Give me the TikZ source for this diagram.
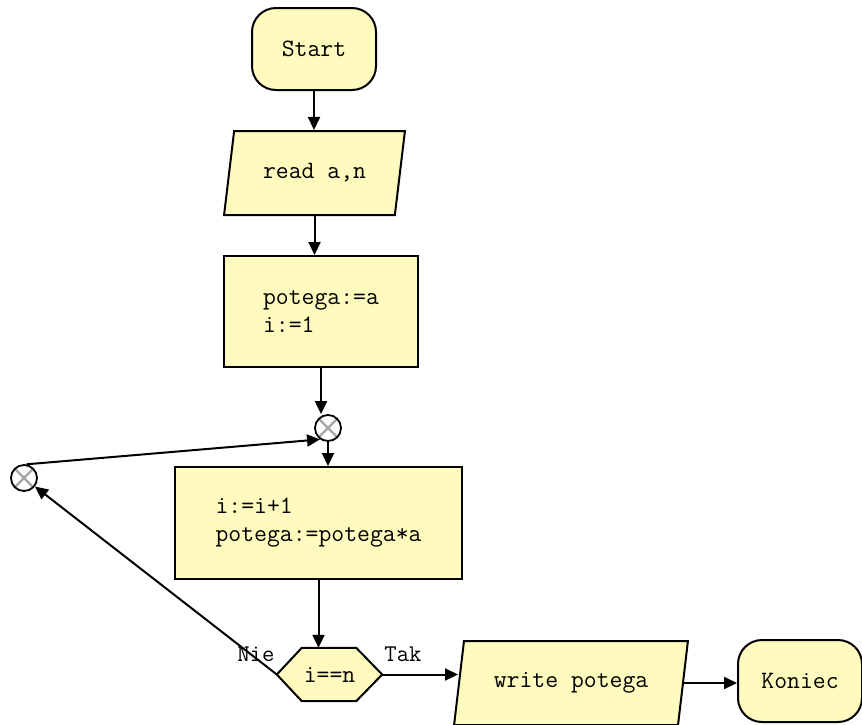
\documentclass[tikz,border=0pt]{standalone}
\usepackage{fontspec}
\usetikzlibrary{shapes.geometric,arrows.meta,calc}
\definecolor{pale}{RGB}{255,250,190}
\tikzset{
  txt/.style={font=\ttfamily\fontsize{25}{28}\selectfont},
  base/.style={draw=black, line width=2pt, fill=pale, inner sep=0pt, txt},
  term/.style={base, rectangle, rounded corners=24pt, minimum width=124pt, minimum height=82pt},
  io/.style={base, trapezium, trapezium left angle=71, trapezium right angle=109, trapezium stretches=true, minimum height=84pt},
  proc/.style={base, rectangle, align=left},
  hexbox/.style={rectangle, inner sep=0pt, minimum width=105pt, minimum height=53pt, txt},
  joint/.style={circle, draw=black, line width=1.8pt, fill=white, minimum size=26pt, inner sep=0pt,
    path picture={\draw[gray!70, line width=2.2pt] (path picture bounding box.north west) -- (path picture bounding box.south east)
      (path picture bounding box.north east) -- (path picture bounding box.south west);}},
  conn/.style={line width=2pt, -{Triangle[length=13pt,width=12pt]}},
  lbl/.style={font=\ttfamily\fontsize{24}{26}\selectfont, inner sep=0pt},
}
\begin{document}
\begin{tikzpicture}[x=1pt, y=-1pt]
\useasboundingbox (0,0) rectangle (862,724);
\node[term] (st) at (314,49) {Start};
\node[io, minimum width=181pt] (rd) at (314.5,173) {read a,n};
\node[proc, minimum width=194pt, minimum height=111pt] (b1) at (321,311.5) {potega:=a\\i:=1};
\node[joint] (c1) at (328,428) {};
\node[joint] (c2) at (24,478) {};
\node[proc, minimum width=287pt, minimum height=112pt] (b2) at (318.5,523) {i:=i+1\\potega:=potega*a};
\node[hexbox] (hx) at (329.5,674.5) {i==n};
\draw[base] (hx.west) -- ($(hx.north west)+(25,0)$) -- ($(hx.north east)+(-26,0)$) -- (hx.east)
  -- ($(hx.south east)+(-26,0)$) -- ($(hx.south west)+(25,0)$) -- cycle;
\node[hexbox] at (hx) {i==n};
\node[io, minimum width=234pt] (wr) at (571,683) {write potega};
\node[term] (kn) at (800,681) {Koniec};
\node[lbl] (nie) at (256,654) {Nie};
\node[lbl] (tak) at (403,654) {Tak};
\draw[conn] (st.south) -- (st.south |- rd.north);
\draw[conn] (rd.south) -- (rd.south |- b1.north);
\draw[conn] (b1.south) -- (b1.south |- c1.north);
\draw[conn] (c1.south) -- (c1.south |- b2.north);
\draw[conn] (b2.south) -- (b2.south |- hx.north);
\draw[conn] (hx.east) -- (hx.east -| wr.west);
\draw[conn] (wr.east) -- (wr.east -| kn.west);
\draw[conn] (hx.west) -- (c2);
\draw[conn] (c2.80) -- (c1.235);
\end{tikzpicture}
\end{document}
